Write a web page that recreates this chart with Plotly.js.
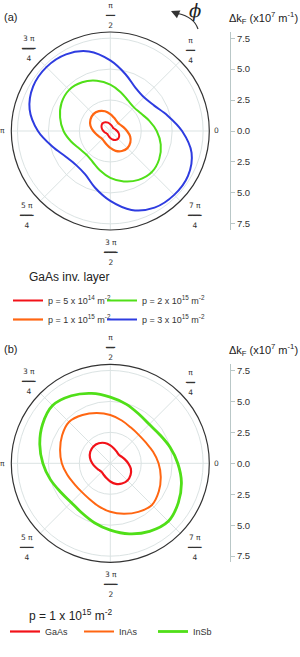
<!DOCTYPE html>
<html>
<head>
<meta charset="utf-8">
<script src="https://cdn.plot.ly/plotly-3.0.1.min.js"></script>
<style>
html,body{margin:0;padding:0;background:#fff;}
#chart{width:300px;height:657px;}
</style>
</head>
<body>
<div id="chart"></div>
<script>
// ---- data ----
const angles = [0,15,30,45,60,75,90,105,120,135,150,165,180,195,210,225,240,255,270,285,300,315,330,345];

// panel (a): GaAs inversion layer, different densities (Δk_F in 1e7 m^-1)
const aRed5e14    = [0.55,0.44,0.37,0.34,0.37,0.44,0.55,0.70,0.82,0.88,0.82,0.70,0.56,0.45,0.37,0.34,0.37,0.45,0.56,0.71,0.83,0.89,0.83,0.70];
const aOrange1e15 = [1.35,1.12,0.97,0.90,0.97,1.12,1.36,1.65,1.85,1.93,1.85,1.66,1.37,1.13,0.98,0.92,0.98,1.13,1.37,1.66,1.87,1.96,1.87,1.66];
const aGreen2e15  = [3.75,3.25,2.85,2.70,2.85,3.25,3.75,4.20,4.55,4.70,4.55,4.20,3.78,3.28,2.87,2.72,2.87,3.28,3.78,4.22,4.56,4.72,4.56,4.22];
const aBlue3e15   = [5.80,4.80,4.10,3.85,4.05,4.75,5.70,6.65,7.15,7.30,7.20,6.75,5.85,4.85,4.15,3.90,4.05,4.75,5.65,6.60,7.15,7.30,7.25,6.80];

// panel (b): p = 1e15 m^-2, different materials
const bGaAs = [1.45,1.22,1.06,0.98,1.06,1.22,1.45,1.70,1.87,1.93,1.87,1.70,1.46,1.23,1.07,0.99,1.07,1.23,1.47,1.72,1.89,1.96,1.89,1.72];
const bInAs = [3.90,3.58,3.33,3.25,3.33,3.58,3.90,4.20,4.50,4.72,4.50,4.20,3.92,3.60,3.35,3.27,3.35,3.60,3.92,4.22,4.53,4.76,4.53,4.22];
const bInSb = [5.45,5.00,4.62,4.45,4.60,4.95,5.35,5.85,6.30,6.60,6.32,5.90,5.45,5.02,4.64,4.47,4.62,4.97,5.40,5.90,6.35,6.63,6.35,5.95];

const namesA = ['p = 5 x 10<sup>14</sup> m<sup>-2</sup>','p = 1 x 10<sup>15</sup> m<sup>-2</sup>','p = 2 x 10<sup>15</sup> m<sup>-2</sup>','p = 3 x 10<sup>15</sup> m<sup>-2</sup>'];
const namesB = ['GaAs','InAs','InSb'];

const angTickVals = [0,45,90,135,180,225,270,315];
const bar1 = '━━';
const bar2 = '━━━';
const angTickText = ['0','π<br>'+bar1+'<br>4','π<br>'+bar1+'<br>2','3 π<br>'+bar2+'<br>4','π','5 π<br>'+bar2+'<br>4','3 π<br>'+bar2+'<br>2','7 π<br>'+bar2+'<br>4'];
const barWidth = [0, 8, 8, 12, 0, 12, 12, 12];
const scaleTickVals = [-7.5,-5,-2.5,0,2.5,5,7.5];
const scaleTickText = ['7.5','5.0','2.5','0.0','2.5','5.0','7.5'];

// ---- helpers ----
const close = a => a.concat([a[0]]);
const thetaC = close(angles);
const W = 300, H = 657;
const px = x => x / W;
const py = y => 1 - y / H;

const cRed = '#f21219', cOrange = '#ff6612', cGreen = '#50df18', cBlue = '#2e3ce0';

function tr(r, name, color, sub, legend, width) {
  return {type:'scatterpolar', mode:'lines', r: close(r), theta: thetaC, name: name,
    subplot: sub, legend: legend, line:{color: color, width: width, shape:'spline', smoothing:1}};
}

const data = [
  tr(aRed5e14, namesA[0], cRed, 'polar', 'legend', 2),
  tr(aOrange1e15, namesA[1], cOrange, 'polar', 'legend', 2.2),
  tr(aGreen2e15, namesA[2], cGreen, 'polar', 'legend2', 2),
  tr(aBlue3e15, namesA[3], cBlue, 'polar', 'legend2', 2),
  tr(bGaAs, namesB[0], cRed, 'polar2', 'legend3', 2.2),
  tr(bInAs, namesB[1], cOrange, 'polar2', 'legend3', 2),
  tr(bInSb, namesB[2], cGreen, 'polar2', 'legend3', 2.8),
  // carriers for the two Δk_F scale axes
  {type:'scatter', x:[], y:[], xaxis:'x', yaxis:'y', showlegend:false, hoverinfo:'skip'},
  {type:'scatter', x:[], y:[], xaxis:'x2', yaxis:'y2', showlegend:false, hoverinfo:'skip'}
];

const R = 99;
const cxA = 110.3, cyA = 131, cyB = 463.3;
function polarLayout(cy) {
  return {
    domain: {x:[px(cxA - R), px(cxA + R)], y:[py(cy + R), py(cy - R)]},
    bgcolor: '#fff',
    radialaxis: {range:[0,8], tickvals:[2.5,5,7.5], showticklabels:false, ticks:'', showline:false,
      gridcolor:'#dbe3e3', gridwidth:1},
    angularaxis: {rotation:0, direction:'counterclockwise', tickmode:'array', tickvals: angTickVals,
      showticklabels:false, ticks:'', showline:true, linecolor:'#333', linewidth:1.2,
      gridcolor:'#dbe3e3', gridwidth:1}
  };
}
function scaleAxis(cy, anchor) {
  return {domain:[py(cy + R), py(cy - R)], range:[-8,8], anchor: anchor, side:'right',
    tickmode:'array', tickvals: scaleTickVals, ticktext: scaleTickText,
    showline:true, linecolor:'#b9c7c7', linewidth:1, ticks:'outside', ticklen:4, tickcolor:'#b9c7c7',
    showgrid:false, zeroline:false, fixedrange:true,
    tickfont:{size:9.5, color:'#333', family:'Liberation Sans, Arial, sans-serif'}};
}
function hiddenX(anchor) {
  return {domain:[px(223), px(230)], anchor: anchor, visible:false, range:[0,1], fixedrange:true,
    showgrid:false, zeroline:false};
}

// angular tick labels placed just outside each polar circle
const labelDist = [106, 114, 115.5, 116, 107.5, 119, 121, 119];
function labelPos(cy, i) {
  const rad = angTickVals[i] * Math.PI / 180;
  return [cxA + labelDist[i] * Math.cos(rad), cy - labelDist[i] * Math.sin(rad)];
}
function angLabels(cy) {
  return angTickVals.map((a, i) => {
    const p = labelPos(cy, i);
    return {xref:'paper', yref:'paper', x: px(p[0]), y: py(p[1]),
      xanchor:'center', yanchor:'middle', showarrow:false, text: angTickText[i],
      font:{size:7.5, color:'#333', family:'DejaVu Sans, sans-serif'}};
  });
}
// fraction bars of the angular labels
function fracBars(cy) {
  const out = [];
  angTickVals.forEach((a, i) => {
    if (!barWidth[i]) return;
    const p = labelPos(cy, i);
    out.push({type:'line', xref:'paper', yref:'paper', layer:'above',
      x0: px(p[0] - barWidth[i] / 2), x1: px(p[0] + barWidth[i] / 2), y0: py(p[1]), y1: py(p[1]),
      line:{color:'#444', width:1}});
  });
  return out;
}

const fnt = 'Liberation Sans, Arial, sans-serif';
const layout = {
  width: W, height: H,
  margin:{l:0,r:0,t:0,b:0},
  paper_bgcolor:'#fff',
  plot_bgcolor:'rgba(0,0,0,0)',
  font:{family: fnt, color:'#222'},
  showlegend:true,
  polar: polarLayout(cyA),
  polar2: polarLayout(cyB),
  xaxis: hiddenX('y'), yaxis: scaleAxis(cyA, 'x'),
  xaxis2: hiddenX('y2'), yaxis2: scaleAxis(cyB, 'x2'),
  legend: {x: px(8), y: py(286), xanchor:'left', yanchor:'top', orientation:'v',
    font:{size:9, color:'#333', family: fnt}, bgcolor:'rgba(0,0,0,0)', tracegroupgap:0},
  legend2: {x: px(102), y: py(286), xanchor:'left', yanchor:'top', orientation:'v',
    font:{size:9, color:'#333', family: fnt}, bgcolor:'rgba(0,0,0,0)', tracegroupgap:0},
  legend3: {x: px(5), y: py(617), xanchor:'left', yanchor:'top', orientation:'h',
    entrywidth:29, entrywidthmode:'pixels',
    font:{size:9, color:'#333', family: fnt}, bgcolor:'rgba(0,0,0,0)'},
  annotations: angLabels(cyA).concat(angLabels(cyB)).concat([
    {xref:'paper', yref:'paper', x: px(2), y: py(17), xanchor:'left', yanchor:'middle', showarrow:false,
      text:'(a)', font:{size:11, color:'#222'}},
    {xref:'paper', yref:'paper', x: px(2), y: py(349), xanchor:'left', yanchor:'middle', showarrow:false,
      text:'(b)', font:{size:11, color:'#222'}},
    {xref:'paper', yref:'paper', x: px(227), y: py(18), xanchor:'left', yanchor:'middle', showarrow:false,
      text:'Δk<sub>F</sub> (x10<sup>7</sup> m<sup>-1</sup>)', font:{size:11, color:'#222'}},
    {xref:'paper', yref:'paper', x: px(227), y: py(350), xanchor:'left', yanchor:'middle', showarrow:false,
      text:'Δk<sub>F</sub> (x10<sup>7</sup> m<sup>-1</sup>)', font:{size:11, color:'#222'}},
    {xref:'paper', yref:'paper', x: px(195), y: py(11), xanchor:'center', yanchor:'middle', showarrow:false,
      text:'<i>ϕ</i>', font:{size:18, color:'#222', family:'DejaVu Serif, serif'}},
    {xref:'paper', yref:'paper', x: px(171), y: py(11), ax: 9, ay: 4, showarrow:true, text:'',
      arrowhead:2, arrowsize:1.4, arrowwidth:1.2, arrowcolor:'#333', standoff:0},
    {xref:'paper', yref:'paper', x: px(27), y: py(277), xanchor:'left', yanchor:'middle', showarrow:false,
      text:'GaAs inv. layer', font:{size:12, color:'#222'}},
    {xref:'paper', yref:'paper', x: px(27), y: py(615), xanchor:'left', yanchor:'middle', showarrow:false,
      text:'p = 1 x 10<sup>15</sup> m<sup>-2</sup>', font:{size:12, color:'#222'}}
  ]),
  shapes: [
    {type:'path', xref:'paper', yref:'paper', layer:'above',
      path: 'M ' + px(198) + ',' + py(29) + ' Q ' + px(194) + ',' + py(17) + ' ' + px(178) + ',' + py(13.5),
      line:{color:'#333', width:1.2}}
  ].concat(fracBars(cyA)).concat(fracBars(cyB))
};

Plotly.newPlot('chart', data, layout, {displayModeBar:false, staticPlot:true});
</script>
</body>
</html>
